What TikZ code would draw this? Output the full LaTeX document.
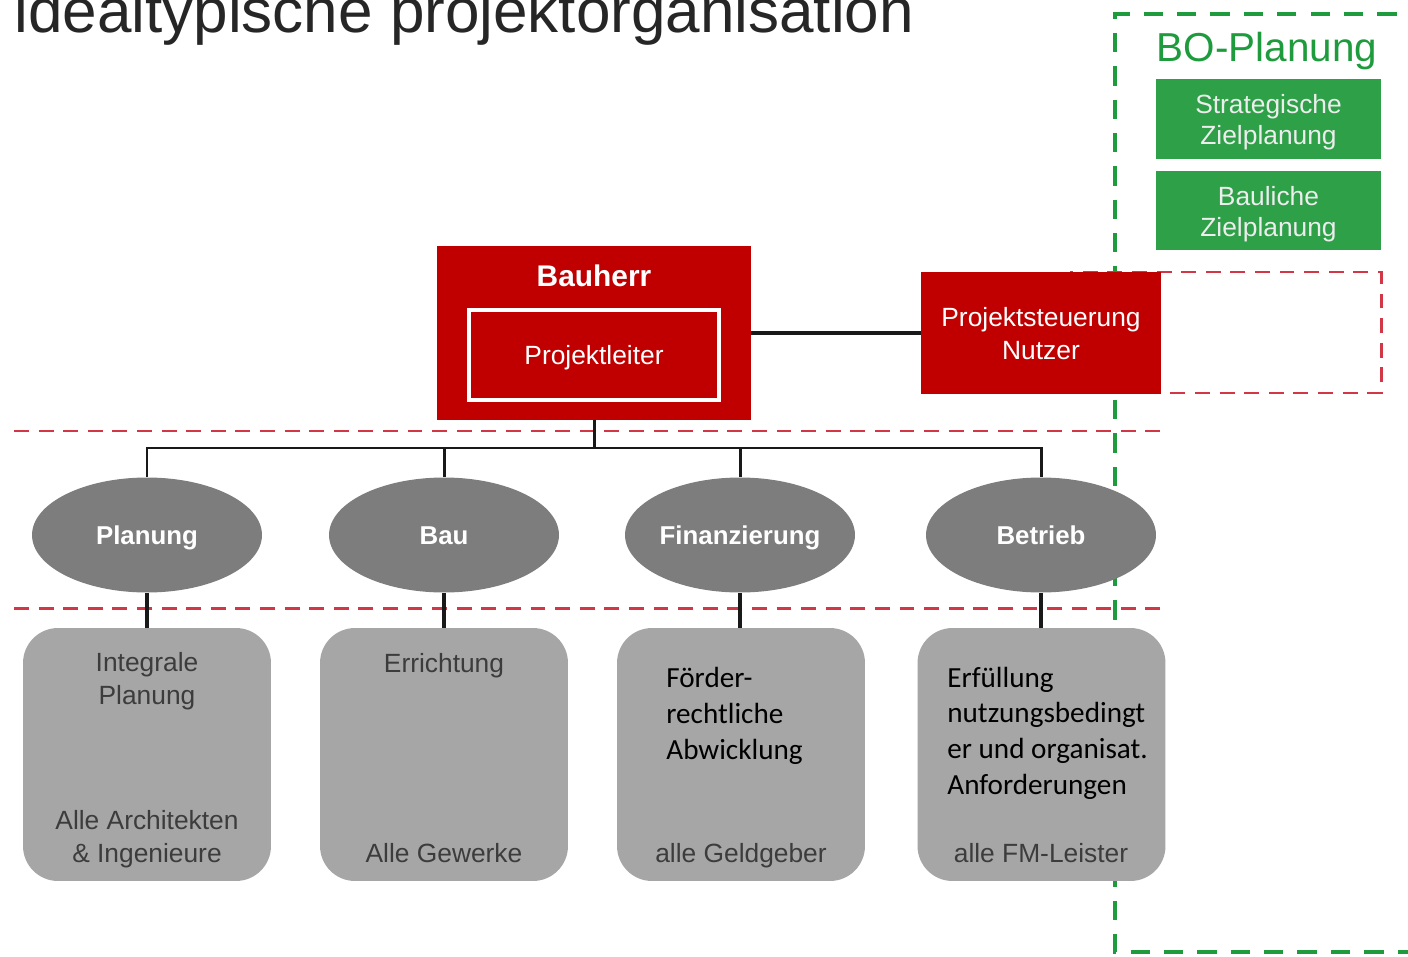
\documentclass[tikz,border=0pt]{standalone}
\usepackage{fontspec}
\setmainfont{Liberation Sans}
\newfontfamily\carl{Carlito}
\usetikzlibrary{shapes.geometric}
\definecolor{bred}{RGB}{192,0,0}
\definecolor{dred}{RGB}{210,55,70}
\definecolor{bgreen}{RGB}{46,160,72}
\definecolor{dgreen}{RGB}{30,155,60}
\definecolor{egray}{RGB}{125,125,125}
\definecolor{bgray}{RGB}{166,166,166}
\definecolor{tgray}{RGB}{60,60,60}
\tikzset{
  redbox/.style={fill=bred, draw=none, inner sep=0pt, text=white},
  greenbox/.style={fill=bgreen, draw=none, inner sep=0pt, minimum width=4.5cm, minimum height=1.6cm},
  greentext/.style={text=white!93!black, align=center, inner sep=0pt, font=\fontsize{15}{17.8}\selectfont},
  oval/.style={ellipse, fill=egray, draw=none, minimum width=4.6cm, minimum height=2.3cm, inner sep=0pt, text=white, text height=10.5pt, text depth=0pt, font=\fontsize{14.7}{17}\selectfont\bfseries},
  graybox/.style={rounded corners=0.7cm, fill=bgray, draw=none, minimum width=4.96cm, minimum height=5.06cm, inner sep=0pt},
  gtext/.style={text=tgray, align=center, inner sep=0pt, font=\fontsize{15}{18.8}\selectfont},
  onel/.style={text height=10.7pt, text depth=0pt},
  btext/.style={text=black, align=left, inner sep=0pt, anchor=west, font=\carl\fontsize{16.6}{20.3}\selectfont},
  rdash/.style={draw=dred, line width=1.7pt, dash pattern=on 8.5pt off 5.5pt},
  gdash/.style={draw=dgreen, line width=2.3pt, dash pattern=on 11pt off 8pt},
  conn/.style={draw=black!90, line width=1.7pt},
  connb/.style={draw=black!90, line width=2.8pt}
}
\begin{document}
\begin{tikzpicture}[x=0.02cm,y=-0.02cm]
\clip (0,0) rectangle (1408,956);
\fill[white] (0,0) rectangle (1408,956);

% title
\node[anchor=base west, inner sep=0pt, text=black!85, font=\fontsize{35.3}{40}\selectfont] (title) at (14,33) {idealtypische projektorganisation};

% green dashed frame (BO-Planung)
\draw[gdash] (1430,14) -- (1115,14) -- (1115,952) -- (1430,952);
\node[text=dgreen, inner sep=0pt, text height=16.5pt, text depth=0pt, font=\fontsize{23}{26}\selectfont] (bo) at (1267,47) {BO-Planung};
\node[greenbox] (szp) at (1268.5,119) {};
\node[greentext] (szpt) at (1268.5,122) {Strategische\\Zielplanung};
\node[greenbox] (bzp) at (1268.5,210.5) {};
\node[greentext] (bzpt) at (1268.5,214) {Bauliche\\Zielplanung};

% red dashed guide lines
\draw[rdash] (14,431) -- (1163,431);
\draw[rdash] (14,608) -- (1163,608);
\draw[rdash] (1070,272) rectangle (1381,393);

% Bauherr
\node[redbox, minimum width=6.28cm, minimum height=3.48cm] (bh) at (594,333) {};
\node[text=white, inner sep=0pt, text height=12.4pt, text depth=0pt, font=\fontsize{17}{20}\selectfont\bfseries] (bht) at (594,276) {Bauherr};
\node[draw=white, line width=2.3pt, fill=bred, minimum width=5cm, minimum height=1.8cm, inner sep=0pt, text=white, text height=10.7pt, text depth=0pt, font=\fontsize{15}{18}\selectfont] (pl) at (594,355) {Projektleiter};

% Projektsteuerung
\node[redbox, minimum width=4.8cm, minimum height=2.44cm] (ps) at (1041,333) {};
\node[text=white, align=center, inner sep=0pt, font=\fontsize{15}{18.8}\selectfont] (pst) at (1041,334) {Projektsteuerung\\Nutzer};
\draw[draw=black!90, line width=2.3pt] (bh.east |- ps.west) -- (ps.west);

% ellipses
\node[oval] (e1) at (147,535) {Planung};
\node[oval] (e2) at (444,535) {Bau};
\node[oval] (e3) at (740,535) {Finanzierung};
\node[oval] (e4) at (1041,535) {Betrieb};

\coordinate (bar) at (594,448);
\draw[conn] (bh.south) -- (bar);
\draw[conn] (e1.north) -- (e1.north |- bar) -- (e4.north |- bar) -- (e4.north);
\draw[conn] (e2.north) -- (e2.north |- bar);
\draw[conn] (e3.north) -- (e3.north |- bar);

% gray boxes
\node[graybox] (g1) at (147,754.5) {};
\node[graybox] (g2) at (444,754.5) {};
\node[graybox] (g3) at (741,754.5) {};
\node[graybox] (g4) at (1041.5,754.5) {};

\draw[connb] (e1.south) -- (e1.south |- g1.north);
\draw[connb] (e2.south) -- (e2.south |- g2.north);
\draw[connb] (e3.south) -- (e3.south |- g3.north);
\draw[connb] (e4.south) -- (e4.south |- g4.north);

% texts in gray boxes
\node[gtext] (t1a) at (147,681.5) {Integrale\\Planung};
\node[gtext] (t1b) at (147,839.5) {Alle Architekten\\\& Ingenieure};
\node[gtext, onel] (t2a) at (444,663) {Errichtung};
\node[gtext, onel] (t2b) at (444,853) {Alle Gewerke};
\node[btext] (t3a) at (666,716) {Förder-\\rechtliche\\Abwicklung};
\node[gtext, onel] (t3b) at (741,853) {alle Geldgeber};
\node[btext] (t4a) at (947,733) {Erfüllung\\nutzungsbedingt\\er und organisat.\\Anforderungen};
\node[gtext, onel] (t4b) at (1041,853) {alle FM-Leister};
\end{tikzpicture}
\end{document}
